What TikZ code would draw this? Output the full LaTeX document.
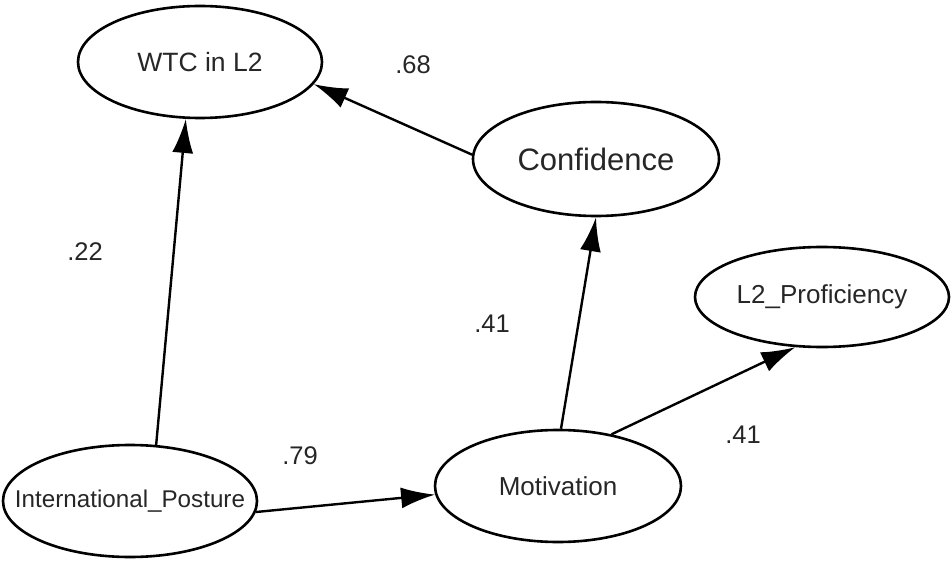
\documentclass[tikz,border=0pt]{standalone}
\usepackage{fontspec}
\setmainfont{Liberation Sans}
\usetikzlibrary{shapes.geometric,arrows.meta}
\definecolor{txt}{HTML}{262626}
\tikzset{
  latent/.style={draw=black, line width=2.6pt, ellipse, inner sep=0pt},
  lbl/.style={text=txt, inner sep=0pt},
  path/.style={line width=2.4pt, -{Latex[length=34pt,width=21pt]}},
  coef/.style={text=txt, font=\fontsize{25.5}{28}\selectfont, inner sep=0pt}
}
\begin{document}
\begin{tikzpicture}[x=1pt,y=-1pt]
\useasboundingbox (0,0) rectangle (952,561);
\node[latent, minimum width=244pt, minimum height=112pt] (wtc) at (200,62) {};
\node[latent, minimum width=246pt, minimum height=114pt] (conf) at (596,159) {};
\node[latent, minimum width=254pt, minimum height=100pt] (prof) at (822,297) {};
\node[latent, minimum width=254pt, minimum height=112pt] (ip) at (130,501) {};
\node[latent, minimum width=246pt, minimum height=112pt] (mot) at (558,486) {};

\node[lbl, font=\fontsize{26.5}{30}\selectfont] (twtc) at (wtc.center) {WTC in L2};
\node[lbl, font=\fontsize{31}{34}\selectfont] (tconf) at (conf.center) {Confidence};
\node[lbl, font=\fontsize{26}{30}\selectfont] (tprof) at (prof.center) {L2\_Proficiency};
\node[lbl, font=\fontsize{24.2}{28}\selectfont] (tip) at (ip.center) {International\_Posture};
\node[lbl, font=\fontsize{26}{30}\selectfont] (tmot) at (mot.center) {Motivation};

\draw[path] (ip.65) -- (wtc.256);
\draw[path] (conf.178) -- (wtc.349);
\draw[path] (mot.87) -- (conf.270);
\draw[path] (mot.44) -- (prof.242);
\draw[path] (ip.355) -- (mot.184);

\node[coef] (c68) at (413,65) {.68};
\node[coef] (c22) at (85,252) {.22};
\node[coef] (c41a) at (492,324) {.41};
\node[coef] (c79) at (300,456) {.79};
\node[coef] (c41b) at (743,435) {.41};
\end{tikzpicture}
\end{document}
